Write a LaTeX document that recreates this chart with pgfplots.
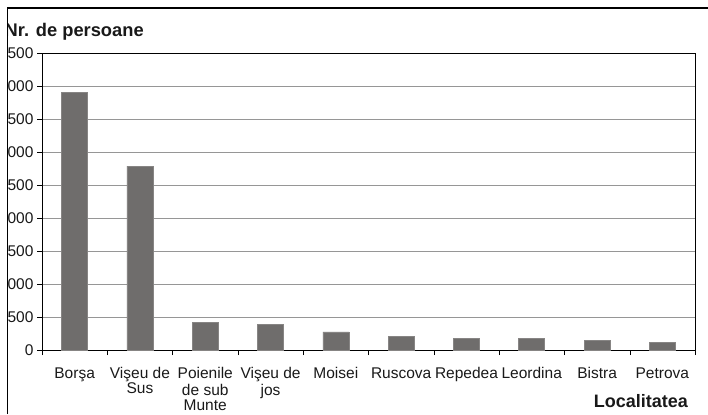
\documentclass[border=0pt]{standalone}
\usepackage{fontspec}
\setmainfont{Liberation Sans}
\usepackage{pgfplots}
\pgfplotsset{compat=1.18}
\definecolor{barc}{RGB}{111,109,108}
\definecolor{barline}{RGB}{135,133,132}
\definecolor{gridc}{RGB}{150,150,150}
\definecolor{txt}{RGB}{25,25,25}
\begin{document}
\begin{tikzpicture}[x=1bp,y=1bp]
\useasboundingbox (0,0) rectangle (708,414);
\begin{scope}
\clip (7.5,0) rectangle (708,406);
\begin{axis}[
  at={(42bp,64bp)}, anchor=south west,
  scale only axis, width=653bp, height=297bp,
  xmin=0.5, xmax=10.5, ymin=0, ymax=4500,
  xtick={1,...,10},
  xticklabels={\strut Borşa, {\strut Vişeu de\\Sus}, {\strut Poienile\\de sub\\Munte}, {\strut Vişeu de\\jos}, \strut Moisei, \strut Ruscova, \strut Repedea, \strut Leordina, \strut Bistra, \strut Petrova},
  xticklabel style={align=center, font=\fontsize{15.5bp}{15.5bp}\selectfont, text=txt, anchor=north, yshift=-8bp, inner sep=4bp},
  major x tick style={draw=none},
  minor xtick={0.5,1.5,...,10.5},
  minor x tick style={black, thin},
  ytick={0,500,...,4500},
  yticklabel style={font=\fontsize{15.5bp}{16bp}\selectfont, text=txt, xshift=0bp},
  /pgf/number format/assume math mode=true,
  /pgf/number format/1000 sep={},
  tick align=outside,
  major tick length=5bp, minor tick length=5bp,
  ymajorgrids, grid style={gridc, line width=0.8bp},
  y tick style={black, thin},
  axis line style={black, line width=1bp},
  xtick pos=bottom, ytick pos=left,
]
\addplot[ybar, bar width=26bp, fill=barc, draw=barline, line width=0.6bp] coordinates {
 (1,3905) (2,2785) (3,424) (4,392) (5,273) (6,212) (7,178) (8,178) (9,151) (10,118)
};
\end{axis}
\node[anchor=base west, font=\fontsize{18.3bp}{20bp}\bfseries\selectfont, text=txt, inner sep=0] at (4.5,377.5) {Nr. de persoane};
\end{scope}
\draw[black, line width=1.6bp] (7.5,0) -- (7.5,406) -- (708,406);
\node[anchor=base east, font=\fontsize{18bp}{20bp}\bfseries\selectfont, text=txt, inner sep=0] at (688,7) {Localitatea};
\end{tikzpicture}
\end{document}
